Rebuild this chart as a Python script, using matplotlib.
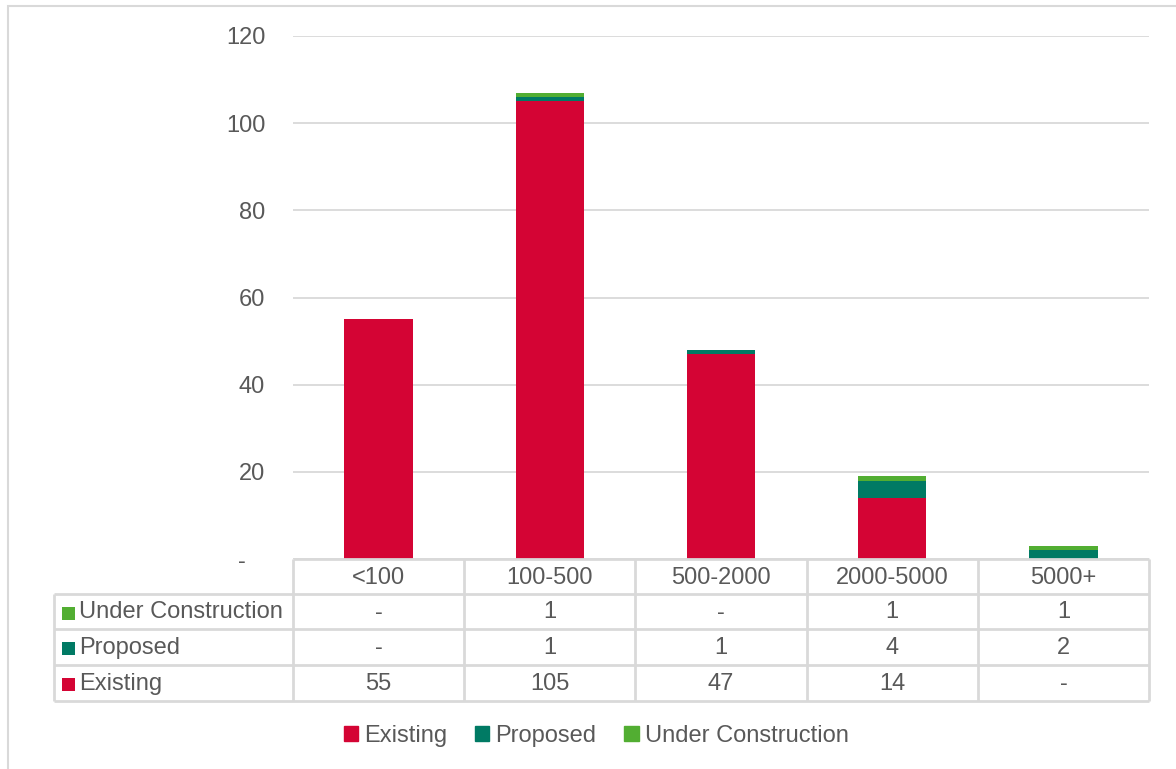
import matplotlib
matplotlib.use("Agg")
import matplotlib.pyplot as plt
from matplotlib.patches import Rectangle, Patch
from matplotlib.lines import Line2D

categories = ["<100", "100-500", "500-2000", "2000-5000", "5000+"]
existing = [55, 105, 47, 14, 0]
proposed = [0, 1, 1, 4, 2]
under_construction = [0, 1, 0, 1, 1]
series_names = ["Existing", "Proposed", "Under Construction"]
colors = {"Existing": "#D40434", "Proposed": "#007A64", "Under Construction": "#52AE32"}
yticks = [0, 20, 40, 60, 80, 100, 120]

plt.rcParams['font.family'] = ['Liberation Sans', 'DejaVu Sans']
TXT = "#595959"
GRID = "#D9D9D9"
FS = 17

W, H = 1176, 769
fig = plt.figure(figsize=(W / 100, H / 100), dpi=100)

def fx(px):
    return px / W

def fy(py):
    return 1 - py / H

# outer chart border
fig.add_artist(Rectangle((fx(8), fy(1000)), 2, fy(6) - fy(1000), transform=fig.transFigure,
                         fill=False, edgecolor=GRID, lw=1.5))

ax_l, ax_r, ax_t, ax_b = 293, 1149, 36, 559
ax = fig.add_axes([fx(ax_l), fy(ax_b), fx(ax_r) - fx(ax_l), fy(ax_t) - fy(ax_b)])
x = list(range(len(categories)))
bottom2 = [a + b for a, b in zip(existing, proposed)]
ax.bar(x, existing, width=0.4, color=colors["Existing"], zorder=3)
ax.bar(x, proposed, width=0.4, bottom=existing, color=colors["Proposed"], zorder=3)
ax.bar(x, under_construction, width=0.4, bottom=bottom2, color=colors["Under Construction"], zorder=3)
ax.set_xlim(-0.5, len(categories) - 0.5)
ax.set_ylim(0, 120)
ax.set_yticks(yticks)
ax.set_yticklabels([("-   " if v == 0 else str(v)) for v in yticks], fontsize=FS, color=TXT)
ax.tick_params(axis='y', length=0, pad=20)
ax.set_xticks([])
for s in ax.spines.values():
    s.set_visible(False)
ax.grid(axis='y', color=GRID, lw=1.3, zorder=0)

# data table
rows_y = [559, 594, 629, 665, 701]
col_x = [ax_l + (ax_r - ax_l) * i / len(categories) for i in range(len(categories) + 1)]
lab_l = 54
lk = dict(transform=fig.transFigure, color=GRID, lw=2, solid_capstyle='butt')
fig.add_artist(Line2D([fx(ax_l), fx(ax_r)], [fy(rows_y[0])] * 2, **lk))
for ry in rows_y[1:]:
    fig.add_artist(Line2D([fx(lab_l), fx(ax_r)], [fy(ry)] * 2, **lk))
fig.add_artist(Line2D([fx(lab_l)] * 2, [fy(rows_y[1]), fy(rows_y[-1])], **lk))
for cx in col_x:
    fig.add_artist(Line2D([fx(cx)] * 2, [fy(rows_y[0]), fy(rows_y[-1])], **lk))

for i, c in enumerate(categories):
    cx = (col_x[i] + col_x[i + 1]) / 2
    fig.text(fx(cx), fy((rows_y[0] + rows_y[1]) / 2 + 1), c, ha='center', va='center',
             fontsize=FS, color=TXT)

table_rows = [("Under Construction", under_construction),
              ("Proposed", proposed),
              ("Existing", existing)]
for r, (name, vals) in enumerate(table_rows):
    cy = (rows_y[r + 1] + rows_y[r + 2]) / 2 + 1
    fig.add_artist(Rectangle((fx(62), fy(cy + 7)), fx(13), fy(0) - fy(13),
                             transform=fig.transFigure, color=colors[name], lw=0))
    fig.text(fx(79), fy(cy), name, ha='left', va='center', fontsize=FS, color=TXT)
    for i, v in enumerate(vals):
        cx = (col_x[i] + col_x[i + 1]) / 2
        fig.text(fx(cx), fy(cy), "-" if v == 0 else str(v), ha='center', va='center',
                 fontsize=FS, color=TXT)

handles = [Patch(color=colors[n]) for n in series_names]
fig.legend(handles, series_names, loc='center', bbox_to_anchor=(fx(596), fy(736)), ncol=3,
           frameon=False, fontsize=FS, labelcolor=TXT, handlelength=0.6, handleheight=0.6,
           handletextpad=0.25, columnspacing=1.2)

fig.savefig("out.png", dpi=100)
